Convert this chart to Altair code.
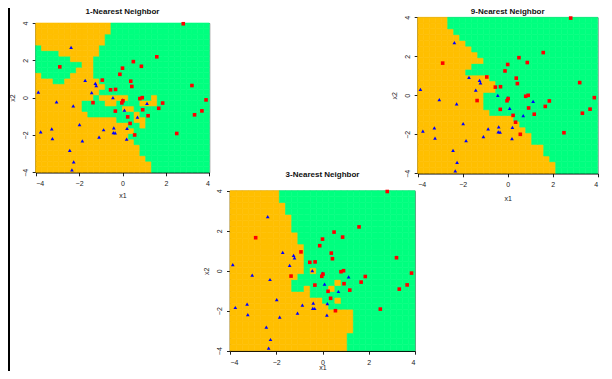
import altair as alt
import numpy as np
import pandas as pd

# ---- training points ----
blue_x = [-2.37, -1.72, -1.25, -1.21, -1.42, -3.88, -3.04, -2.27, -0.44, 0.01,
          0.09, 1.13, 0.69, -1.98, -3.26, -3.77, -3.23, -0.87, -0.40, -0.42,
          -0.34, 0.21, -1.08, -1.85, 0.19, -2.43, -2.25, -2.33]
blue_y = [2.70, 0.92, 0.77, 0.64, 0.27, 0.30, -0.22, -0.44, 0.00, -0.12,
          -0.67, -0.31, -1.04, -1.45, -1.67, -1.84, -2.20, -1.72, -1.62, -1.88,
          -1.89, -1.65, -2.12, -2.32, -2.22, -2.82, -3.44, -3.87]
red_x = [2.80, 1.58, 0.50, 0.87, 0.00, -2.89, -0.12, -0.93, 0.38, 0.43,
         3.20, -0.55, -0.32, -1.36, -0.03, 0.02, 0.80, 0.91, 1.85, 3.85,
         -0.33, 0.93, 1.67, 3.66, 0.24, 1.18, 3.32, 0.35, 0.56, 2.50]
red_y = [3.96, 2.19, 1.93, 1.68, 1.58, 1.65, 1.25, 0.94, 0.88, 0.60,
         0.65, 0.42, 0.44, -0.27, -0.28, -0.17, -0.05, 0.00, -0.29, -0.12,
         -0.72, -0.65, -0.57, -0.71, -1.03, -0.97, -0.92, -1.38, -2.00, -1.92]

panel_titles = ["1-Nearest Neighbor", "9-Nearest Neighbor", "3-Nearest Neighbor"]
panel_k = [1, 9, 3]
tick_values = [-4, -2, 0, 2, 4]
grid_nx, grid_ny = 30, 27
region_colors = ["#FFBF00", "#00FF7F"]

# ---- layout (chart pixels) ----
W, H = 596, 363
placement = [(27.7, 201.3, 15.0, 164.3), (409.7, 589.7, 9.3, 165.3), (222.0, 407.0, 182.7, 342.7)]
title_y = [3.5, 3.5, 167.0]
xtitle_y = [26.5, 28.0, 20.0]

pts_x = np.array(blue_x + red_x)
pts_y = np.array(blue_y + red_y)
pts_lab = np.array([0] * len(blue_x) + [1] * len(red_x))

xe = np.linspace(-4, 4, grid_nx + 1)
ye = np.linspace(-4, 4, grid_ny + 1)
X0, Y0 = np.meshgrid(xe[:-1], ye[:-1])
X1, Y1 = np.meshgrid(xe[1:], ye[1:])
cx = ((X0 + X1) / 2).ravel()
cy = ((Y0 + Y1) / 2).ravel()
dist = (cx[:, None] - pts_x[None, :]) ** 2 + (cy[:, None] - pts_y[None, :]) ** 2
order = np.argsort(dist, axis=1)

blue_df = pd.DataFrame({"x": blue_x, "y": blue_y})
red_df = pd.DataFrame({"x": red_x, "y": red_y})

lab_font = dict(labelFont="Liberation Sans", labelFontSize=7, labelColor="#222",
                titleFont="Liberation Sans", titleFontSize=7, titleFontWeight="normal",
                titleColor="#222", grid=False, values=tick_values, tickSize=3.5,
                tickColor="#222", domainColor="#000", domainWidth=1.5, labelPadding=4)

layers = []
for title, k, (x0, x1, yt, yb), ty, xty in zip(panel_titles, panel_k, placement, title_y, xtitle_y):
    vote = pts_lab[order[:, :k]].mean(axis=1) > 0.5
    gdf = pd.DataFrame({
        "x0": X0.ravel(), "x1": X1.ravel(), "y0": Y0.ravel(), "y1": Y1.ravel(),
        "cls": np.where(vote, "red", "blue"),
    })

    def xs():
        return alt.Scale(domain=[-4, 4], range=[x0, x1], nice=False, zero=False)

    def ys():
        return alt.Scale(domain=[-4, 4], range=[yb, yt], nice=False, zero=False)

    grid = alt.Chart(gdf).mark_rect(strokeWidth=0.6).encode(
        x=alt.X("x0:Q", scale=xs(), axis=alt.Axis(orient="bottom", offset=-(H - yb),
                                                   title="x1", titleY=xty, titleBaseline="bottom",
                                                   **lab_font)),
        x2="x1:Q",
        y=alt.Y("y0:Q", scale=ys(), axis=alt.Axis(orient="left", offset=-x0, title="x2",
                                                   labelAngle=270, labelAlign="center",
                                                   labelBaseline="bottom", titlePadding=6,
                                                   **lab_font)),
        y2="y1:Q",
        color=alt.Color("cls:N", scale=alt.Scale(domain=["blue", "red"], range=region_colors), legend=None),
        stroke=alt.Stroke("cls:N", scale=alt.Scale(domain=["blue", "red"], range=region_colors), legend=None),
    )
    blue_pts = alt.Chart(blue_df).mark_point(shape="triangle-up", filled=True, size=14,
                                             color="#0000FF", opacity=1).encode(
        x=alt.X("x:Q", scale=xs(), axis=alt.Axis(orient="top", offset=-yt, labels=False,
                                                  ticks=False, title=None, grid=False,
                                                  domainColor="#555", domainWidth=1)),
        y=alt.Y("y:Q", scale=ys(), axis=None),
    )
    red_pts = alt.Chart(red_df).mark_point(shape="square", filled=True, size=13,
                                           color="#FF0000", opacity=1).encode(
        x=alt.X("x:Q", scale=xs(), axis=None),
        y=alt.Y("y:Q", scale=ys(), axis=alt.Axis(orient="right", offset=-(W - x1), labels=False,
                                                  ticks=False, title=None, grid=False,
                                                  domainColor="#888", domainWidth=1)),
    )
    ttl = alt.Chart(pd.DataFrame({"t": [title]})).mark_text(
        font="Liberation Sans", fontSize=8, fontWeight="bold", color="#111",
        align="center", baseline="middle").encode(
        text="t:N", x=alt.value((x0 + x1) / 2), y=alt.value(ty))
    layers += [grid, blue_pts, red_pts, ttl]

edge = alt.Chart(pd.DataFrame({"a": [0]})).mark_rule(color="#000", strokeWidth=2).encode(
    x=alt.value(1), y=alt.value(0), y2=alt.value(H))
layers.append(edge)

chart = alt.layer(*layers).resolve_scale(x="independent", y="independent").properties(
    width=W, height=H, autosize=alt.AutoSizeParams(type="none"), padding=0
).configure_view(stroke=None)

chart.save("out.html", embed_options={"renderer": "svg", "actions": False})
